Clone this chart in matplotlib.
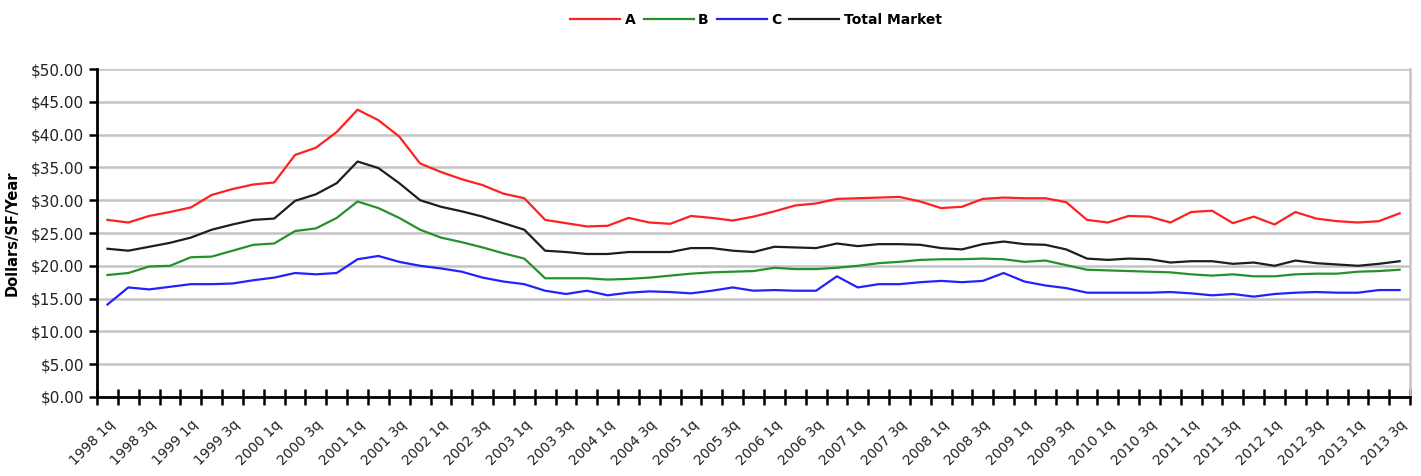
import numpy as np
import matplotlib
matplotlib.use("Agg")
import matplotlib.pyplot as plt
import matplotlib.transforms as mtransforms
from matplotlib.ticker import FixedLocator, FuncFormatter

# Quarterly asking rents, 1998 1q .. 2013 3q
years = range(1998, 2014)
quarters = [f"{y} {q}q" for y in years for q in range(1, 5)][:63]

class_a = [27.0, 26.6, 27.6, 28.2, 28.9, 30.8, 31.7, 32.4, 32.7, 36.9, 38.0, 40.4, 43.8,
           42.2, 39.7, 35.6, 34.3, 33.2, 32.3, 31.0, 30.3, 27.0, 26.5, 26.0, 26.1, 27.3,
           26.6, 26.4, 27.6, 27.3, 26.9, 27.5, 28.3, 29.2, 29.5, 30.2, 30.3, 30.4, 30.5,
           29.8, 28.8, 29.0, 30.2, 30.4, 30.3, 30.3, 29.7, 27.0, 26.6, 27.6, 27.5, 26.6,
           28.2, 28.4, 26.5, 27.5, 26.3, 28.2, 27.2, 26.8, 26.6, 26.8, 28.0]
class_b = [18.6, 18.9, 19.9, 20.0, 21.3, 21.4, 22.3, 23.2, 23.4, 25.3, 25.7, 27.3, 29.8,
           28.8, 27.3, 25.5, 24.3, 23.6, 22.8, 21.9, 21.1, 18.1, 18.1, 18.1, 17.9, 18.0,
           18.2, 18.5, 18.8, 19.0, 19.1, 19.2, 19.7, 19.5, 19.5, 19.7, 20.0, 20.4, 20.6,
           20.9, 21.0, 21.0, 21.1, 21.0, 20.6, 20.8, 20.1, 19.4, 19.3, 19.2, 19.1, 19.0,
           18.7, 18.5, 18.7, 18.4, 18.4, 18.7, 18.8, 18.8, 19.1, 19.2, 19.4]
class_c = [14.1, 16.7, 16.4, 16.8, 17.2, 17.2, 17.3, 17.8, 18.2, 18.9, 18.7, 18.9, 21.0,
           21.5, 20.6, 20.0, 19.6, 19.1, 18.2, 17.6, 17.2, 16.2, 15.7, 16.2, 15.5, 15.9,
           16.1, 16.0, 15.8, 16.2, 16.7, 16.2, 16.3, 16.2, 16.2, 18.4, 16.7, 17.2, 17.2,
           17.5, 17.7, 17.5, 17.7, 18.9, 17.6, 17.0, 16.6, 15.9, 15.9, 15.9, 15.9, 16.0,
           15.8, 15.5, 15.7, 15.3, 15.7, 15.9, 16.0, 15.9, 15.9, 16.3, 16.3]
total = [22.6, 22.3, 22.9, 23.5, 24.3, 25.5, 26.3, 27.0, 27.2, 29.9, 30.9, 32.6, 35.9,
         34.9, 32.6, 30.0, 29.0, 28.3, 27.5, 26.5, 25.5, 22.3, 22.1, 21.8, 21.8, 22.1,
         22.1, 22.1, 22.7, 22.7, 22.3, 22.1, 22.9, 22.8, 22.7, 23.4, 23.0, 23.3, 23.3,
         23.2, 22.7, 22.5, 23.3, 23.7, 23.3, 23.2, 22.5, 21.1, 20.9, 21.1, 21.0, 20.5,
         20.7, 20.7, 20.3, 20.5, 20.0, 20.8, 20.4, 20.2, 20.0, 20.3, 20.7]

series = [("A", class_a, "#ff2020"), ("B", class_b, "#24922a"),
          ("C", class_c, "#2222ff"), ("Total Market", total, "#1e1e1e")]

fig = plt.figure(figsize=(14.21, 4.76), dpi=100)
ax = fig.add_axes([0.0683, 0.166, 0.924, 0.689])

x = np.arange(len(quarters))
for name, vals, col in series:
    ax.plot(x, vals, color=col, lw=1.6, label=name)

ax.set_xlim(-0.5, len(quarters) - 0.5)
ax.set_ylim(0, 50)
ax.set_yticks(np.arange(0, 51, 5))
ax.yaxis.set_major_formatter(FuncFormatter(lambda v, p: f"${v:.2f}"))
ax.grid(axis="y", color="#c4c4c4", lw=1.8)
ax.set_axisbelow(True)

# tick marks between categories, labels every second quarter
ax.xaxis.set_major_locator(FixedLocator(np.arange(-0.5, len(quarters), 1.0)))
ax.xaxis.set_minor_locator(FixedLocator(x[::2]))
ax.set_xticklabels([], minor=False)
ax.set_xticklabels(quarters[::2], minor=True, rotation=45, ha="right",
                   rotation_mode="anchor", fontsize=10, color="#222222")
shift = mtransforms.ScaledTranslation(-5 / 100, 0, fig.dpi_scale_trans)
for lbl in ax.get_xticklabels(minor=True):
    lbl.set_transform(lbl.get_transform() + shift)
ax.tick_params(axis="x", which="major", direction="inout", length=11, width=1.8)
ax.tick_params(axis="x", which="minor", length=0, pad=15)
ax.tick_params(axis="y", direction="out", length=6, width=1.8, labelsize=11,
               labelcolor="#222222")

for s in ("left", "bottom"):
    ax.spines[s].set_linewidth(2)
    ax.spines[s].set_color("black")
ax.spines["right"].set_color("#c4c4c4")
ax.spines["right"].set_linewidth(1.8)
ax.spines["top"].set_visible(False)

ax.set_ylabel("Dollars/SF/Year", fontsize=10.5, fontweight="bold", labelpad=8)

fig.legend(loc="upper center", bbox_to_anchor=(0.532, 1.0), ncol=4, frameon=False,
           handlelength=3.6, handletextpad=0.3, columnspacing=0.6,
           prop={"weight": "bold", "size": 10})

fig.savefig("out.png", dpi=100)
